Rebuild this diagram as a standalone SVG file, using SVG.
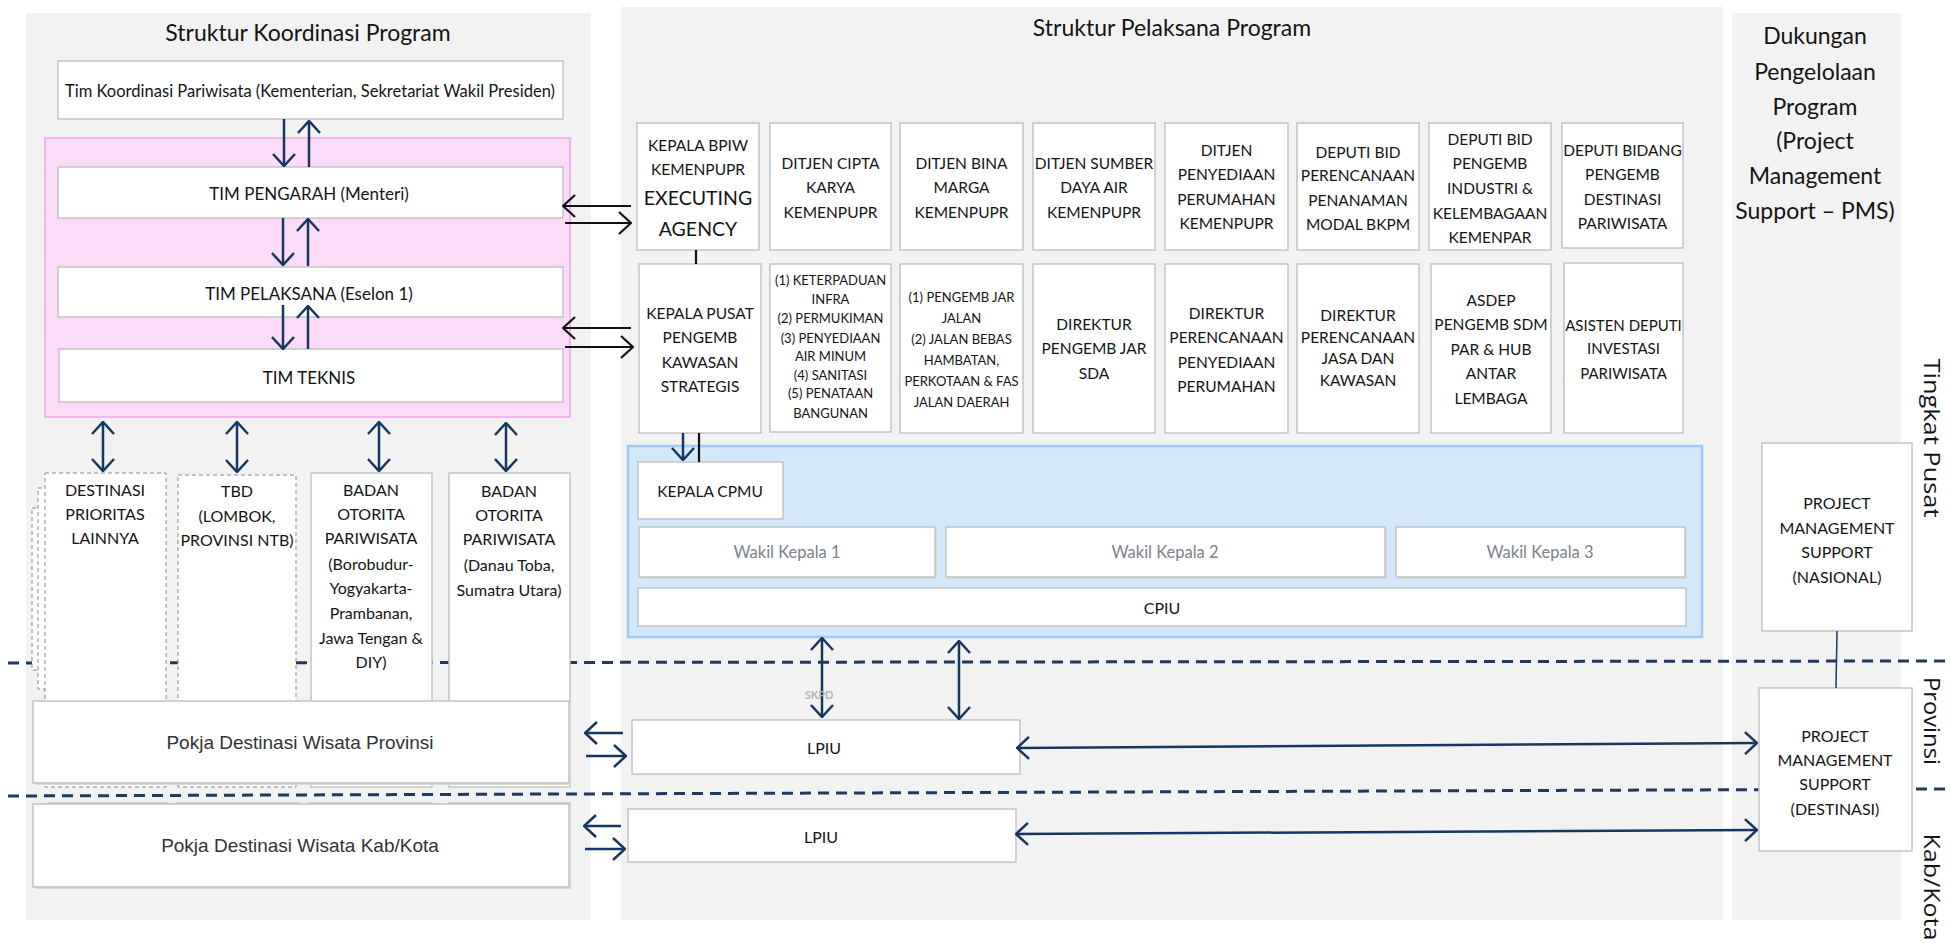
<svg xmlns="http://www.w3.org/2000/svg" width="1947" height="943" viewBox="0 0 1947 943">
<style>
text{font-family:Lato,"Liberation Sans",sans-serif;fill:#141414;text-anchor:middle;dominant-baseline:central}
.panel{fill:#f2f2f2}
.box{fill:#fff;stroke:#c4c4c4;stroke-width:1.5}
.dbox{fill:#fff;stroke:#8a8a8a;stroke-width:1;stroke-dasharray:4 3}
.shadow{fill:#d9d9d9}
.title{font-size:23px}
.t17{font-size:17px}
.t16{font-size:16px}
.t155{font-size:15.5px}
.t15{font-size:15px}
.t13{font-size:13px}
.big{font-size:19.5px}
.pokja{font-family:"Liberation Sans",Arial,sans-serif;font-size:19px;fill:#333}
.wakil{font-size:16.5px;fill:#7d828c}
.side{font-family:"Open Sans",sans-serif;font-size:22px}
.dash{stroke:#1f3a5f;stroke-width:3;stroke-dasharray:11 7;fill:none}
.nv{stroke:#17375e;stroke-width:2.5;fill:none}
.bk{stroke:#111;stroke-width:2.2;fill:none}
</style>
<defs>
<marker id="an" markerUnits="userSpaceOnUse" viewBox="0 0 14 24" markerWidth="14" markerHeight="24" refX="13" refY="12" orient="auto-start-reverse"><path d="M1,1 L13,12 L1,23" fill="none" stroke="#17375e" stroke-width="2.5"/></marker>
<marker id="ab" markerUnits="userSpaceOnUse" viewBox="0 0 14 24" markerWidth="14" markerHeight="24" refX="13" refY="12" orient="auto-start-reverse"><path d="M1,1 L13,12 L1,23" fill="none" stroke="#111" stroke-width="2.2"/></marker>
</defs>

<g id="panels">
<rect class="panel" x="26" y="13" width="565" height="907"/>
<rect class="panel" x="621" y="7" width="1102" height="913"/>
<rect class="panel" x="1732" y="13" width="169" height="907"/>
<text class="title" x="308" y="32">Struktur Koordinasi Program</text>
<text class="title" x="1172" y="27">Struktur Pelaksana Program</text>
<text class="title" x="1815" y="35">Dukungan</text>
<text class="title" x="1815" y="71">Pengelolaan</text>
<text class="title" x="1815" y="106">Program</text>
<text class="title" x="1815" y="140">(Project</text>
<text class="title" x="1815" y="175">Management</text>
<text class="title" x="1815" y="210">Support – PMS)</text>
</g>

<g id="levels">
<line class="dash" x1="8" y1="663" x2="1947" y2="661"/>
<line class="dash" x1="8" y1="796" x2="1947" y2="789"/>
<text class="side" transform="translate(1933,438) rotate(90)" textLength="159" lengthAdjust="spacingAndGlyphs">Tingkat Pusat</text>
<text class="side" transform="translate(1933,721) rotate(90)" textLength="88" lengthAdjust="spacingAndGlyphs">Provinsi</text>
<text class="side" transform="translate(1933,887) rotate(90)" textLength="107" lengthAdjust="spacingAndGlyphs">Kab/Kota</text>
</g>

<g id="tim-koordinasi">
<rect class="box" x="58" y="61" width="505" height="58"/>
<text class="t17" x="310" y="90" textLength="490" lengthAdjust="spacingAndGlyphs">Tim Koordinasi Pariwisata (Kementerian, Sekretariat Wakil Presiden)</text>
</g>

<g id="tim-group">
<rect x="45" y="138" width="525" height="279" fill="#fcdbf8" stroke="#f3b6ec" stroke-width="2"/>
</g>
<g id="tim-pengarah">
<rect class="box" x="58" y="167" width="505" height="51"/>
<text class="t17" x="309" y="193">TIM PENGARAH (Menteri)</text>
</g>
<g id="tim-pelaksana">
<rect class="box" x="58" y="267" width="505" height="50"/>
<text class="t17" x="309" y="293">TIM PELAKSANA (Eselon 1)</text>
</g>
<g id="tim-teknis">
<rect class="box" x="59" y="349" width="504" height="53"/>
<text class="t17" x="309" y="377">TIM TEKNIS</text>
</g>

<g id="col-back">
<rect class="box" x="48" y="803" width="120" height="85"/>
<rect class="box" x="177" y="803" width="122" height="85"/>
<rect class="box" x="309" y="803" width="123" height="85"/>
<rect class="box" x="449" y="803" width="121" height="85"/>
</g>

<g id="destinasi-prioritas">
<rect class="dbox" x="32" y="508" width="121" height="162"/>
<rect class="dbox" x="38" y="488" width="121" height="201"/>
<rect class="dbox" x="45" y="473" width="121" height="314"/>
<text class="t16" x="105" y="489">DESTINASI</text>
<text class="t16" x="105" y="513">PRIORITAS</text>
<text class="t16" x="105" y="537">LAINNYA</text>
</g>
<g id="tbd">
<rect class="dbox" x="178" y="475" width="118" height="312"/>
<text class="t16" x="237" y="490">TBD</text>
<text class="t16" x="237" y="515">(LOMBOK,</text>
<text class="t16" x="237" y="539">PROVINSI NTB)</text>
</g>
<g id="bop-borobudur">
<rect class="box" x="311" y="473" width="121" height="314"/>
<text class="t16" x="371" y="489">BADAN</text>
<text class="t16" x="371" y="513">OTORITA</text>
<text class="t16" x="371" y="537">PARIWISATA</text>
<text class="t16" x="371" y="563">(Borobudur-</text>
<text class="t16" x="371" y="587">Yogyakarta-</text>
<text class="t16" x="371" y="612">Prambanan,</text>
<text class="t16" x="371" y="637">Jawa Tengan &amp;</text>
<text class="t16" x="371" y="661">DIY)</text>
</g>
<g id="bop-toba">
<rect class="box" x="449" y="473" width="121" height="314"/>
<text class="t16" x="509" y="490">BADAN</text>
<text class="t16" x="509" y="514">OTORITA</text>
<text class="t16" x="509" y="538">PARIWISATA</text>
<text class="t16" x="509" y="564">(Danau Toba,</text>
<text class="t16" x="509" y="589">Sumatra Utara)</text>
</g>

<g id="pokja-provinsi">
<rect class="shadow" x="35" y="703" width="536" height="82"/>
<rect class="box" x="33" y="701" width="536" height="82"/>
<text class="pokja" x="300" y="742">Pokja Destinasi Wisata Provinsi</text>
</g>
<g id="pokja-kabkota">
<rect class="shadow" x="35" y="806" width="536" height="83"/>
<rect class="box" x="33" y="804" width="536" height="83"/>
<text class="pokja" x="300" y="845">Pokja Destinasi Wisata Kab/Kota</text>
</g>

<g id="kepala-bpiw">
<rect class="box" x="637" y="123" width="122" height="127"/>
<text class="t155" x="698" y="145">KEPALA BPIW</text>
<text class="t155" x="698" y="169">KEMENPUPR</text>
<text class="big" x="698" y="197">EXECUTING</text>
<text class="big" x="698" y="228">AGENCY</text>
</g>
<g id="ditjen-cipta-karya">
<rect class="box" x="770" y="123" width="121" height="127"/>
<text class="t155" x="830.5" y="163">DITJEN CIPTA</text>
<text class="t155" x="830.5" y="187">KARYA</text>
<text class="t155" x="830.5" y="212">KEMENPUPR</text>
</g>
<g id="ditjen-bina-marga">
<rect class="box" x="900" y="123" width="123" height="127"/>
<text class="t155" x="961.5" y="163">DITJEN BINA</text>
<text class="t155" x="961.5" y="187">MARGA</text>
<text class="t155" x="961.5" y="212">KEMENPUPR</text>
</g>
<g id="ditjen-sda">
<rect class="box" x="1033" y="123" width="122" height="127"/>
<text class="t155" x="1094" y="163">DITJEN SUMBER</text>
<text class="t155" x="1094" y="187">DAYA AIR</text>
<text class="t155" x="1094" y="212">KEMENPUPR</text>
</g>
<g id="ditjen-perumahan">
<rect class="box" x="1165" y="123" width="123" height="127"/>
<text class="t155" x="1226.5" y="150">DITJEN</text>
<text class="t155" x="1226.5" y="174">PENYEDIAAN</text>
<text class="t155" x="1226.5" y="199">PERUMAHAN</text>
<text class="t155" x="1226.5" y="223">KEMENPUPR</text>
</g>
<g id="deputi-bkpm">
<rect class="box" x="1297" y="123" width="122" height="127"/>
<text class="t155" x="1358" y="152">DEPUTI BID</text>
<text class="t155" x="1358" y="175">PERENCANAAN</text>
<text class="t155" x="1358" y="200">PENANAMAN</text>
<text class="t155" x="1358" y="224">MODAL BKPM</text>
</g>
<g id="deputi-kemenpar">
<rect class="box" x="1429" y="123" width="122" height="127"/>
<text class="t155" x="1490" y="139">DEPUTI BID</text>
<text class="t155" x="1490" y="163">PENGEMB</text>
<text class="t155" x="1490" y="188">INDUSTRI &amp;</text>
<text class="t155" x="1490" y="213">KELEMBAGAAN</text>
<text class="t155" x="1490" y="237">KEMENPAR</text>
</g>
<g id="deputi-destinasi">
<rect class="box" x="1562" y="123" width="121" height="125"/>
<text class="t155" x="1622.5" y="150">DEPUTI BIDANG</text>
<text class="t155" x="1622.5" y="174">PENGEMB</text>
<text class="t155" x="1622.5" y="199">DESTINASI</text>
<text class="t155" x="1622.5" y="223">PARIWISATA</text>
</g>

<g id="kepala-pusat">
<rect class="box" x="639" y="264" width="122" height="169"/>
<text class="t155" x="700" y="313">KEPALA PUSAT</text>
<text class="t155" x="700" y="337">PENGEMB</text>
<text class="t155" x="700" y="362">KAWASAN</text>
<text class="t155" x="700" y="386">STRATEGIS</text>
</g>
<g id="cipta-karya-dir">
<rect class="box" x="770" y="264" width="121" height="168"/>
<text class="t13" x="830.5" y="280">(1) KETERPADUAN</text>
<text class="t13" x="830.5" y="299">INFRA</text>
<text class="t13" x="830.5" y="318">(2) PERMUKIMAN</text>
<text class="t13" x="830.5" y="338">(3) PENYEDIAAN</text>
<text class="t13" x="830.5" y="356">AIR MINUM</text>
<text class="t13" x="830.5" y="375">(4) SANITASI</text>
<text class="t13" x="830.5" y="393">(5) PENATAAN</text>
<text class="t13" x="830.5" y="413">BANGUNAN</text>
</g>
<g id="bina-marga-dir">
<rect class="box" x="900" y="264" width="123" height="169"/>
<text class="t13" x="961.5" y="297">(1) PENGEMB JAR</text>
<text class="t13" x="961.5" y="318">JALAN</text>
<text class="t13" x="961.5" y="339">(2) JALAN BEBAS</text>
<text class="t13" x="961.5" y="360">HAMBATAN,</text>
<text class="t13" x="961.5" y="381">PERKOTAAN &amp; FAS</text>
<text class="t13" x="961.5" y="402">JALAN DAERAH</text>
</g>
<g id="sda-dir">
<rect class="box" x="1033" y="264" width="122" height="169"/>
<text class="t155" x="1094" y="324">DIREKTUR</text>
<text class="t155" x="1094" y="348">PENGEMB JAR</text>
<text class="t155" x="1094" y="373">SDA</text>
</g>
<g id="perumahan-dir">
<rect class="box" x="1165" y="264" width="123" height="169"/>
<text class="t155" x="1226.5" y="313">DIREKTUR</text>
<text class="t155" x="1226.5" y="337">PERENCANAAN</text>
<text class="t155" x="1226.5" y="362">PENYEDIAAN</text>
<text class="t155" x="1226.5" y="386">PERUMAHAN</text>
</g>
<g id="bkpm-dir">
<rect class="box" x="1297" y="264" width="122" height="169"/>
<text class="t155" x="1358" y="315">DIREKTUR</text>
<text class="t155" x="1358" y="337">PERENCANAAN</text>
<text class="t155" x="1358" y="358">JASA DAN</text>
<text class="t155" x="1358" y="380">KAWASAN</text>
</g>
<g id="asdep-sdm">
<rect class="box" x="1431" y="264" width="120" height="169"/>
<text class="t155" x="1491" y="300">ASDEP</text>
<text class="t155" x="1491" y="324">PENGEMB SDM</text>
<text class="t155" x="1491" y="349">PAR &amp; HUB</text>
<text class="t155" x="1491" y="373">ANTAR</text>
<text class="t155" x="1491" y="398">LEMBAGA</text>
</g>
<g id="asdep-investasi">
<rect class="box" x="1564" y="263" width="119" height="170"/>
<text class="t15" x="1623.5" y="325">ASISTEN DEPUTI</text>
<text class="t15" x="1623.5" y="348">INVESTASI</text>
<text class="t15" x="1623.5" y="373">PARIWISATA</text>
</g>

<g id="cpmu">
<rect x="628" y="446" width="1074" height="191" fill="#d4e8fb" stroke="#9fcbf5" stroke-width="2.5"/>
</g>
<g id="kepala-cpmu">
<rect class="box" x="638" y="462" width="145" height="57"/>
<text class="t155" x="710" y="491">KEPALA CPMU</text>
</g>
<g id="wakil-1">
<rect class="shadow" x="641" y="529" width="296" height="50"/>
<rect class="box" x="639" y="527" width="296" height="50"/>
<text class="wakil" x="787" y="552">Wakil Kepala 1</text>
</g>
<g id="wakil-2">
<rect class="shadow" x="948" y="529" width="439" height="50"/>
<rect class="box" x="946" y="527" width="439" height="50"/>
<text class="wakil" x="1165" y="552">Wakil Kepala 2</text>
</g>
<g id="wakil-3">
<rect class="shadow" x="1398" y="529" width="289" height="50"/>
<rect class="box" x="1396" y="527" width="289" height="50"/>
<text class="wakil" x="1540" y="552">Wakil Kepala 3</text>
</g>
<g id="cpiu">
<rect class="box" x="638" y="588" width="1048" height="38"/>
<text class="t16" x="1162" y="607">CPIU</text>
</g>

<g id="lpiu-provinsi">
<rect class="box" x="632" y="720" width="388" height="54"/>
<text class="t16" x="824" y="747">LPIU</text>
</g>
<g id="lpiu-kabkota">
<rect class="box" x="628" y="809" width="388" height="53"/>
<text class="t16" x="821" y="836">LPIU</text>
</g>

<g id="pms-nasional">
<rect class="box" x="1762" y="443" width="150" height="188"/>
<text class="t16" x="1837" y="502">PROJECT</text>
<text class="t16" x="1837" y="527">MANAGEMENT</text>
<text class="t16" x="1837" y="551">SUPPORT</text>
<text class="t16" x="1837" y="576">(NASIONAL)</text>
</g>
<g id="pms-destinasi">
<rect class="box" x="1759" y="688" width="153" height="163"/>
<text class="t16" x="1835" y="735">PROJECT</text>
<text class="t16" x="1835" y="759">MANAGEMENT</text>
<text class="t16" x="1835" y="783">SUPPORT</text>
<text class="t16" x="1835" y="808">(DESTINASI)</text>
</g>

<g id="connectors">
<line class="nv" x1="284" y1="119" x2="284" y2="166" marker-end="url(#an)"/>
<line class="nv" x1="309" y1="167" x2="309" y2="121" marker-end="url(#an)"/>
<line class="nv" x1="283" y1="218" x2="283" y2="265" marker-end="url(#an)"/>
<line class="nv" x1="308" y1="266" x2="308" y2="219" marker-end="url(#an)"/>
<line class="nv" x1="283" y1="305" x2="283" y2="349" marker-end="url(#an)"/>
<line class="nv" x1="308" y1="349" x2="308" y2="306" marker-end="url(#an)"/>
<line class="bk" x1="631" y1="206" x2="563" y2="206" marker-end="url(#ab)"/>
<line class="bk" x1="565" y1="223" x2="631" y2="223" marker-end="url(#ab)"/>
<line class="bk" x1="631" y1="328" x2="563" y2="328" marker-end="url(#ab)"/>
<line class="bk" x1="565" y1="347" x2="633" y2="347" marker-end="url(#ab)"/>
<line class="nv" x1="103" y1="422" x2="103" y2="471" marker-start="url(#an)" marker-end="url(#an)"/>
<line class="nv" x1="237" y1="422" x2="237" y2="472" marker-start="url(#an)" marker-end="url(#an)"/>
<line class="nv" x1="379" y1="422" x2="379" y2="471" marker-start="url(#an)" marker-end="url(#an)"/>
<line class="nv" x1="506" y1="423" x2="506" y2="471" marker-start="url(#an)" marker-end="url(#an)"/>
<line class="bk" x1="696" y1="250" x2="696" y2="264"/>
<line class="nv" x1="683" y1="433" x2="683" y2="460" marker-end="url(#an)"/>
<line class="bk" x1="699" y1="433" x2="699" y2="462"/>
<line class="nv" x1="822" y1="638" x2="822" y2="717" marker-start="url(#an)" marker-end="url(#an)"/>
<line class="nv" x1="959" y1="641" x2="959" y2="719" marker-start="url(#an)" marker-end="url(#an)"/>
<line class="nv" x1="623" y1="733" x2="585" y2="733" marker-end="url(#an)"/>
<line class="nv" x1="586" y1="756" x2="626" y2="756" marker-end="url(#an)"/>
<line class="nv" x1="621" y1="826" x2="584" y2="826" marker-end="url(#an)"/>
<line class="nv" x1="585" y1="849" x2="625" y2="849" marker-end="url(#an)"/>
<line class="nv" x1="1017" y1="748" x2="1757" y2="743" marker-start="url(#an)" marker-end="url(#an)"/>
<line class="nv" x1="1016" y1="834" x2="1757" y2="830" marker-start="url(#an)" marker-end="url(#an)"/>
<line x1="1837" y1="631" x2="1836" y2="688" stroke="#1f3a5f" stroke-width="1.5"/>
<text x="819" y="694" style="font-size:11px;font-weight:bold;fill:#b5b5b5">SKPD</text>
</g>
</svg>
